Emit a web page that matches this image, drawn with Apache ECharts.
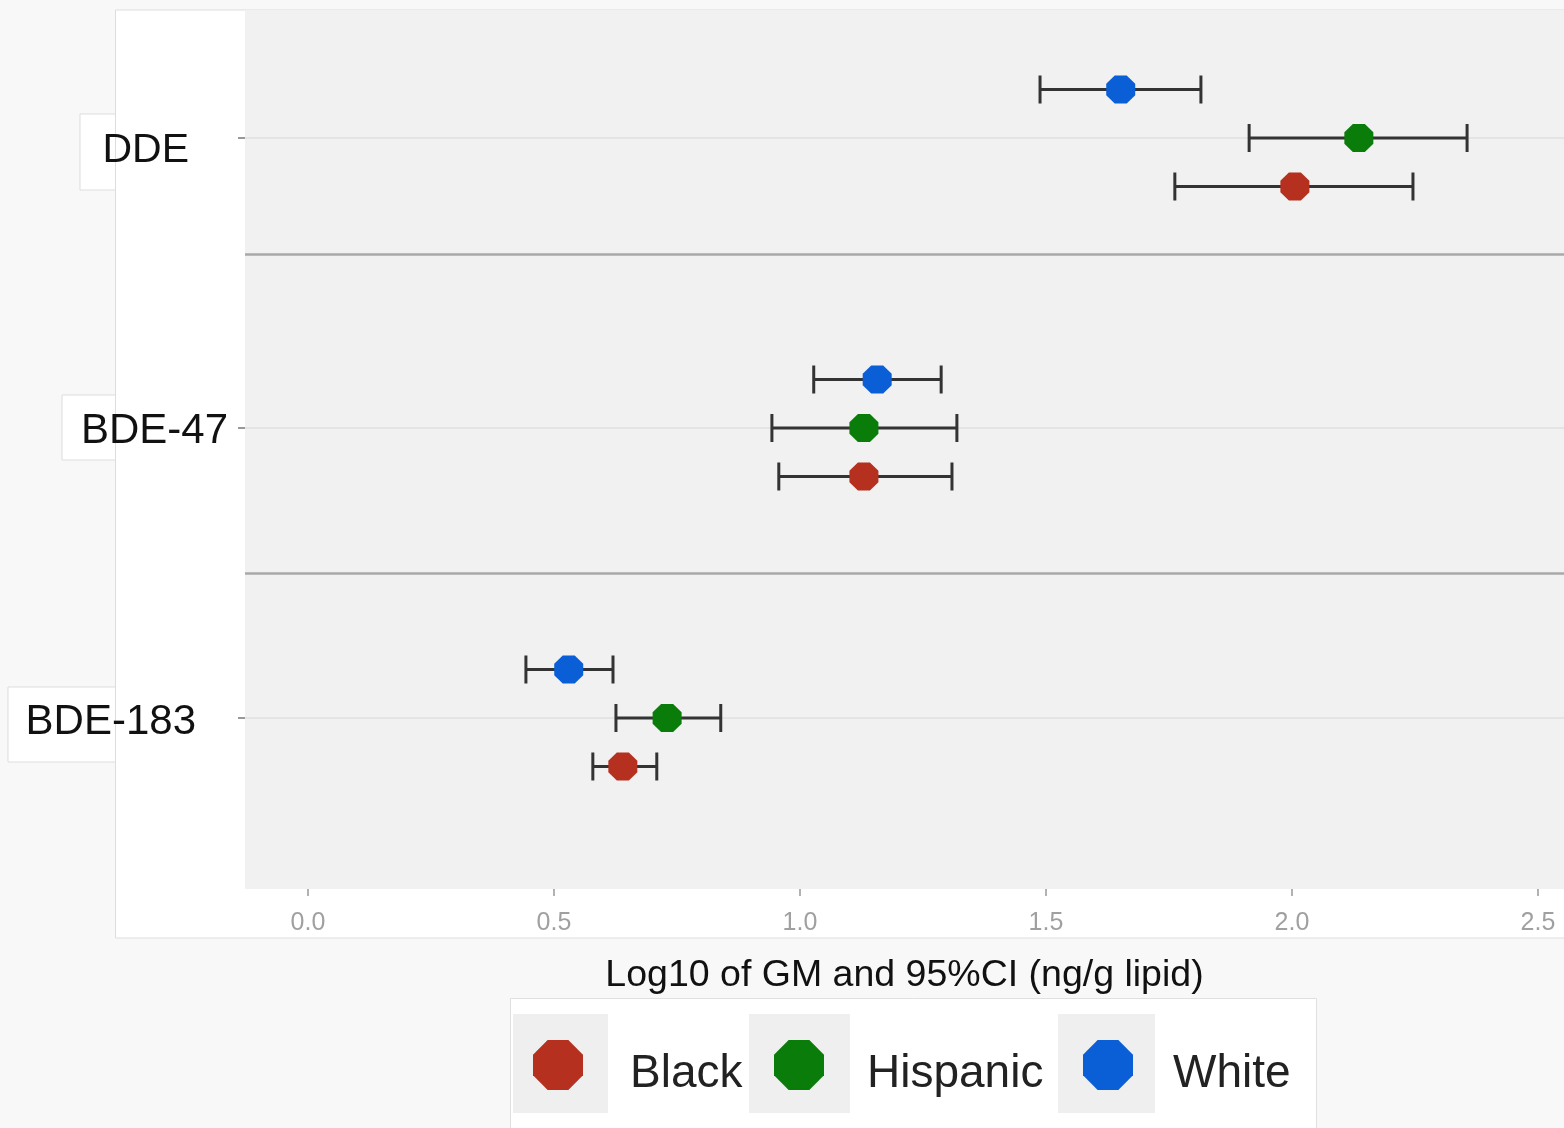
<!DOCTYPE html>
<html>
<head>
<meta charset="utf-8">
<title>Log10 GM and 95% CI by group</title>
<script src="https://cdn.jsdelivr.net/npm/echarts@6/dist/echarts.min.js"></script>
<style>
  html, body { margin: 0; padding: 0; background: #f8f8f8; }
  #chart { width: 1564px; height: 1128px; }
</style>
</head>
<body>
<div id="chart"></div>
<script>
// Compounds on the y axis, bottom to top
const categories = ['BDE-183', 'BDE-47', 'DDE'];
const groups = ['Black', 'Hispanic', 'White'];

// Log10 geometric means and 95% CI bounds, ordered as categories
const blackMean = [0.640, 1.130, 2.006];
const blackLow  = [0.579, 0.957, 1.762];
const blackHigh = [0.709, 1.309, 2.246];

const hispanicMean = [0.730, 1.130, 2.136];
const hispanicLow  = [0.626, 0.943, 1.913];
const hispanicHigh = [0.839, 1.319, 2.356];

const whiteMean = [0.530, 1.157, 1.652];
const whiteLow  = [0.443, 1.028, 1.488];
const whiteHigh = [0.620, 1.287, 1.815];

const xTicks = [0, 0.5, 1.0, 1.5, 2.0, 2.5];
const xTitle = 'Log10 of GM and 95%CI (ng/g lipid)';

// Facet separators between compound rows
const panelBreaks = [1.597, 0.503];

const groupColors = { Black: '#b5301f', Hispanic: '#0a7c0a', White: '#0b5fd6' };
// Vertical dodge in pixels within each compound row
const dodge = { Black: 48.5, Hispanic: 0, White: -48.5 };

const octagon = 'path://M29.3,0 L70.7,0 L100,29.3 L100,70.7 L70.7,100 L29.3,100 L0,70.7 L0,29.3 Z';
const FONT = '"Liberation Sans", Arial, sans-serif';

const seriesData = {
  Black: { mean: blackMean, low: blackLow, high: blackHigh },
  Hispanic: { mean: hispanicMean, low: hispanicLow, high: hispanicHigh },
  White: { mean: whiteMean, low: whiteLow, high: whiteHigh }
};

function errorBarSeries(name) {
  const d = seriesData[name];
  const off = dodge[name];
  return {
    type: 'custom',
    name: name + ' CI',
    z: 2,
    silent: true,
    data: categories.map((c, i) => [d.low[i], d.high[i], i]),
    encode: { x: [0, 1], y: 2 },
    renderItem: function (params, api) {
      const a = api.coord([api.value(0), api.value(2)]);
      const b = api.coord([api.value(1), api.value(2)]);
      const y = a[1] + off;
      const cap = 14;
      const style = { stroke: '#333333', lineWidth: 3 };
      return {
        type: 'group',
        children: [
          { type: 'line', shape: { x1: a[0], y1: y, x2: b[0], y2: y }, style: style },
          { type: 'line', shape: { x1: a[0], y1: y - cap, x2: a[0], y2: y + cap }, style: style },
          { type: 'line', shape: { x1: b[0], y1: y - cap, x2: b[0], y2: y + cap }, style: style }
        ]
      };
    }
  };
}

function pointSeries(name) {
  const d = seriesData[name];
  return {
    type: 'scatter',
    name: name,
    z: 3,
    symbol: octagon,
    symbolSize: [29, 28],
    symbolOffset: [0, dodge[name]],
    itemStyle: { color: groupColors[name], opacity: 1 },
    emphasis: { disabled: true },
    data: categories.map((c, i) => [d.mean[i], i])
  };
}

// Per-label styling for the compound names
const labelRich = {
  DDE:    { fontSize: 41, color: '#111', fontFamily: FONT, padding: [26, 39, 0, 0] },
  BDE47:  { fontSize: 42, color: '#111', fontFamily: FONT, padding: [6, 0, 0, 0] },
  BDE183: { fontSize: 42, color: '#111', fontFamily: FONT, padding: [8, 32, 0, 0] }
};
const richKey = { 'DDE': 'DDE', 'BDE-47': 'BDE47', 'BDE-183': 'BDE183' };

function legendFor(name, left, padLeft) {
  return {
    data: [name],
    left: left,
    top: 1040,
    padding: 0,
    orient: 'horizontal',
    icon: octagon,
    itemWidth: 50,
    itemHeight: 52,
    selectedMode: false,
    formatter: n => '{t|' + n + '}',
    textStyle: {
      rich: {
        t: { fontSize: 46, color: '#222', fontFamily: FONT, padding: [18, 0, 0, padLeft] }
      }
    }
  };
}

const chart = echarts.init(document.getElementById('chart'), null, { renderer: 'canvas' });

const option = {
  backgroundColor: '#f8f8f8',
  animation: false,
  grid: {
    left: 245, right: 0, top: 10, bottom: 239,
    show: true, backgroundColor: '#f1f1f1', borderWidth: 0
  },
  xAxis: {
    type: 'value',
    min: -0.128,
    max: 2.553,
    axisLine: { show: false, onZero: false },
    axisTick: { show: true, customValues: xTicks, length: 7, lineStyle: { color: '#999', width: 1.5 } },
    axisLabel: {
      customValues: xTicks,
      formatter: v => v.toFixed(1),
      fontSize: 25, color: '#a0a0a0', fontFamily: FONT, margin: 22
    },
    splitLine: { show: false },
    name: xTitle,
    nameLocation: 'middle',
    nameGap: 68,
    nameTextStyle: { fontSize: 37.5, color: '#111', fontFamily: FONT }
  },
  yAxis: {
    type: 'value',
    min: -0.5897,
    max: 2.4414,
    axisLine: { show: false, onZero: false },
    axisTick: { show: true, customValues: [0, 1, 2], length: 7, lineStyle: { color: '#999', width: 2 } },
    axisLabel: {
      customValues: [0, 1, 2],
      margin: 17,
      formatter: v => {
        const c = categories[Math.round(v)];
        return '{' + richKey[c] + '|' + c + '}';
      },
      rich: labelRich
    },
    splitLine: { show: true, lineStyle: { color: '#e4e4e4', width: 2 } }
  },
  legend: [
    legendFor('Black', 533, 42),
    legendFor('Hispanic', 774, 38),
    legendFor('White', 1083, 35)
  ],
  graphic: [
    // label tabs behind the white panel
    { type: 'rect', z: -20, shape: { x: 80, y: 114, width: 60, height: 76 }, style: { fill: '#ffffff', stroke: '#dddddd', lineWidth: 1 } },
    { type: 'rect', z: -20, shape: { x: 62, y: 395, width: 80, height: 65 }, style: { fill: '#ffffff', stroke: '#dddddd', lineWidth: 1 } },
    { type: 'rect', z: -20, shape: { x: 8, y: 687, width: 130, height: 75 }, style: { fill: '#ffffff', stroke: '#dddddd', lineWidth: 1 } },
    // white panel holding the plot
    { type: 'rect', z: -10, shape: { x: 115.5, y: 10, width: 1500, height: 928 }, style: { fill: '#ffffff', stroke: '#dddddd', lineWidth: 1 } },
    // legend frame and key backgrounds
    { type: 'rect', z: -10, shape: { x: 510.5, y: 998.5, width: 806, height: 160 }, style: { fill: '#ffffff', stroke: '#e0e0e0', lineWidth: 1 } },
    { type: 'rect', z: -5, shape: { x: 513, y: 1014, width: 95, height: 99 }, style: { fill: '#efefef' } },
    { type: 'rect', z: -5, shape: { x: 749, y: 1014, width: 101, height: 99 }, style: { fill: '#efefef' } },
    { type: 'rect', z: -5, shape: { x: 1058, y: 1014, width: 97, height: 99 }, style: { fill: '#efefef' } }
  ],
  series: [
    Object.assign(errorBarSeries('Black'), {
      markLine: {
        silent: true,
        symbol: 'none',
        label: { show: false },
        lineStyle: { color: '#a8a8a8', width: 2.5, type: 'solid' },
        data: panelBreaks.map(v => ({ yAxis: v }))
      }
    }),
    errorBarSeries('Hispanic'),
    errorBarSeries('White'),
    pointSeries('Black'),
    pointSeries('Hispanic'),
    pointSeries('White')
  ]
};

chart.setOption(option);
</script>
</body>
</html>
